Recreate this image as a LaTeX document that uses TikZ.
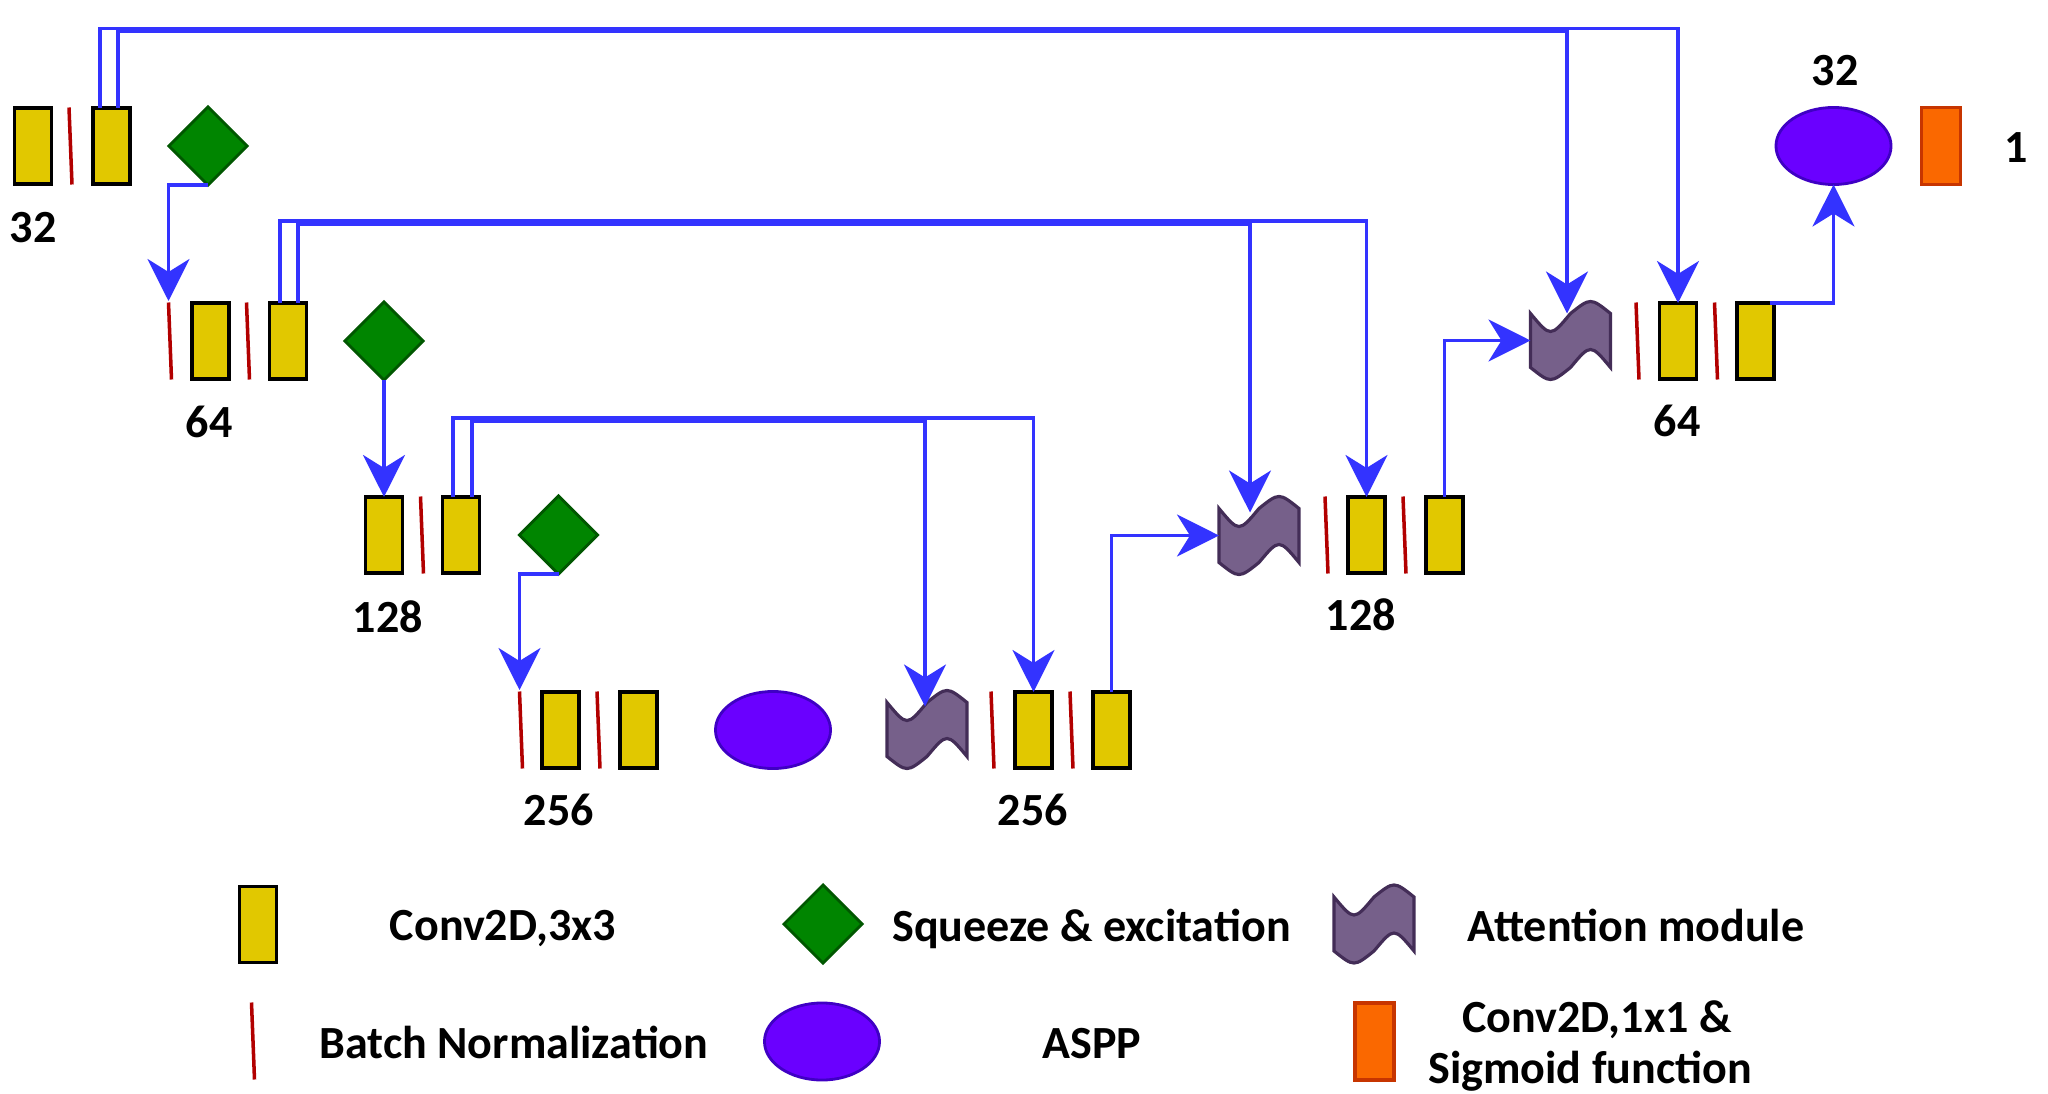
\documentclass[tikz,border=0pt]{standalone}
\usepackage{fontspec}
\setmainfont{Carlito}
\usetikzlibrary{shapes.geometric,arrows.meta,calc}
\definecolor{convy}{HTML}{E1C800}
\definecolor{sef}{HTML}{008500}
\definecolor{sed}{HTML}{005700}
\definecolor{asppf}{HTML}{6A00FF}
\definecolor{asppd}{HTML}{3F00C4}
\definecolor{attf}{HTML}{76608A}
\definecolor{attd}{HTML}{432D57}
\definecolor{orf}{HTML}{FA6800}
\definecolor{ord}{HTML}{C73500}
\definecolor{bnc}{HTML}{B20000}
\definecolor{lnk}{HTML}{3333FF}
\tikzset{
 conv/.style={draw=black, fill=convy, line width=1.1pt, minimum width=0.37cm, minimum height=0.76cm, inner sep=0pt, outer sep=0pt},
 sebox/.style={diamond, draw=sed, fill=sef, line width=0.8pt, minimum width=0.78cm, minimum height=0.78cm, inner sep=0pt, outer sep=0pt},
 asppbox/.style={ellipse, draw=asppd, fill=asppf, line width=0.8pt, minimum width=1.15cm, minimum height=0.77cm, inner sep=0pt, outer sep=0pt},
 attbox/.style={minimum width=0.8cm, minimum height=0.48cm, inner sep=0pt, outer sep=0pt},
 outbox/.style={draw=ord, fill=orf, line width=1pt, minimum width=0.39cm, minimum height=0.77cm, inner sep=0pt, outer sep=0pt},
 bnst/.style={draw=bnc, line width=1pt},
 conn/.style={draw=lnk, line width=0.9pt},
 arr/.style={conn, -{Stealth[length=0.42cm, width=0.42cm, inset=0.13cm]}},
 lbl/.style={font=\fontsize{13.1pt}{14.5pt}\selectfont\bfseries, inner sep=0pt, anchor=base},
 tape/.pic={\draw[draw=attd, fill=attf, line width=0.9pt] (-40,-27) .. controls (-20,-3) .. (0,-27) .. controls (20,-43) .. (40,-27) -- (40,27) .. controls (20,3) .. (0,27) .. controls (-20,43) .. (-40,27) -- cycle;}
}
\newcommand{\bnmark}[3]{%
  \coordinate (#1) at (#2,#3);
  \coordinate (#1t) at ($(#1)+(-1.5,-40)$);
  \draw[bnst] ($(#1)+(-1.5,-38.5)$) -- ($(#1)+(1.5,38.5)$);}
\begin{document}
\begin{tikzpicture}[x=0.01cm, y=-0.01cm]
\fill[white] (0,0) rectangle (2048,1094);
\useasboundingbox (0,0) rectangle (2048,1094);

% Encoder level 1
\node[conv] (e1a) at (33,146) {};
\bnmark{e1b}{70.5}{146}
\node[conv] (e1c) at (111.5,146) {};
\node[sebox] (se1) at (208,146) {};
\node[lbl] (t32a) at (33,242) {32};

% Encoder level 2
\bnmark{e2a}{170}{341}
\node[conv] (e2b) at (210.5,341) {};
\bnmark{e2c}{248}{341}
\node[conv] (e2d) at (288,341) {};
\node[sebox] (se2) at (384,341) {};
\node[lbl] (t64a) at (209,437) {64};

% Encoder level 3
\node[conv] (e3a) at (384,535) {};
\bnmark{e3b}{422}{535}
\node[conv] (e3c) at (461,535) {};
\node[sebox] (se3) at (558.5,535) {};
\node[lbl] (t128a) at (388,632) {128};

% Bottom
\bnmark{e4a}{521}{730}
\node[conv] (e4b) at (560.5,730) {};
\bnmark{e4c}{598.5}{730}
\node[conv] (e4d) at (638.5,730) {};
\node[asppbox] (aspp1) at (773,730) {};
\node[attbox] (at4) at (927,729.5) {};
\pic at (at4) {tape};
\bnmark{d4a}{992.5}{730}
\node[conv] (d4b) at (1033.5,730) {};
\bnmark{d4c}{1071.5}{730}
\node[conv] (d4d) at (1111.5,730) {};
\node[lbl] (t256a) at (559,825) {256};
\node[lbl] (t256b) at (1033,825) {256};

% Decoder level 3
\node[attbox] (at3) at (1259,535.5) {};
\pic at (at3) {tape};
\bnmark{d3a}{1326.5}{535}
\node[conv] (d3b) at (1366.5,535) {};
\bnmark{d3c}{1404.5}{535}
\node[conv] (d3d) at (1444.5,535) {};
\node[lbl] (t128b) at (1361,630) {128};

% Decoder level 2
\node[attbox] (at2) at (1570.5,340.5) {};
\pic at (at2) {tape};
\bnmark{d2a}{1637.5}{341}
\node[conv] (d2b) at (1678,341) {};
\bnmark{d2c}{1716}{341}
\node[conv] (d2d) at (1755.5,341) {};
\node[lbl] (t64b) at (1677,436) {64};

% Output
\node[asppbox] (aspp2) at (1833.5,146) {};
\node[outbox] (outc) at (1941,146) {};
\node[lbl] (t32b) at (1835,86) {32};
\node[lbl] (t1) at (2016,163) {1};

% Down connections
\draw[arr] (se1.south) -| (e2at);
\draw[arr] (se2.south) -- (e3a.north);
\draw[arr] (se3.south) -| (e4at);

% Skip connections
\coordinate (k1o) at (1678,28.5);
\coordinate (k1i) at (1567,31.5);
\draw[arr] ($(e1c.north)+(-11.5,0)$) |- (k1o) -- (d2b.north);
\draw[arr] ($(e1c.north)+(6.5,0)$) |- (k1i) -- ($(at2)+(-3.5,-27)$);
\coordinate (k2o) at (1366.5,221);
\coordinate (k2i) at (1250,224);
\draw[arr] ($(e2d.north)+(-8,0)$) |- (k2o) -- (d3b.north);
\draw[arr] ($(e2d.north)+(10,0)$) |- (k2i) -- ($(at3)+(-9,-23)$);
\coordinate (k3o) at (1033.5,418);
\coordinate (k3i) at (925,421);
\draw[arr] ($(e3c.north)+(-8,0)$) |- (k3o) -- (d4b.north);
\draw[arr] ($(e3c.north)+(11,0)$) |- (k3i) -- ($(at4)+(-2,-23)$);

% Up connections
\draw[arr] (d4d.north) |- (at3.west);
\draw[arr] (d3d.north) |- (at2.west);
\draw[arr] ($(d2d.north)+(14,0)$) -| (aspp2.south);

% Legend
\node[conv] (lg1) at (258,924.5) {};
\node[lbl] (lt1) at (503,940) {Conv2D,3x3};
\node[sebox] (lg2) at (823,924) {};
\node[lbl] (lt2) at (1091.5,941) {Squeeze \& excitation};
\node[attbox] (lg3) at (1374,924) {};
\pic at (lg3) {tape};
\node[lbl] (lt3) at (1636,941) {Attention module};
\bnmark{lg4}{253}{1041}
\node[lbl] (lt4) at (514,1058) {Batch Normalization};
\node[asppbox] (lg5) at (822,1041.5) {};
\node[lbl] (lt5) at (1092,1058) {ASPP};
\node[outbox] (lg6) at (1374.5,1041.5) {};
\node[lbl] (lt6a) at (1597,1032) {Conv2D,1x1 \&};
\node[lbl] (lt6b) at (1590,1083) {Sigmoid function};
\end{tikzpicture}
\end{document}
